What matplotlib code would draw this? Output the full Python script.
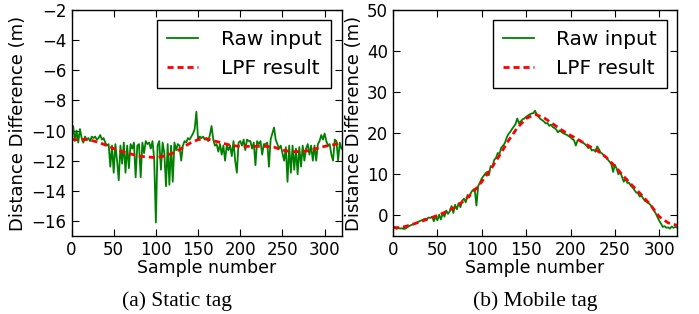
import numpy as np
import matplotlib
matplotlib.use('Agg')
import matplotlib.pyplot as plt

# raw samples, every 2nd sample
raw_x = np.arange(0, 321, 2)

static_raw = [
  -10.6, -9.7, -10.7, -10.0, -10.8, -9.9, -10.5, -10.8, -10.4, -10.6,
  -10.5, -10.7, -10.4, -10.5, -10.4, -10.6, -10.5, -10.3, -10.6, -10.5,
  -10.8, -11.0, -10.9, -12.4, -11.0, -12.8, -10.9, -12.0, -13.3, -11.0,
  -12.2, -10.8, -12.8, -11.0, -12.5, -10.9, -11.2, -10.8, -13.1, -11.0,
  -10.9, -13.1, -10.8, -11.5, -10.7, -10.9, -10.8, -11.2, -10.7, -11.9,
  -16.1, -11.0, -10.7, -12.6, -10.8, -11.5, -13.7, -10.9, -13.6, -11.0,
  -13.4, -10.8, -11.3, -10.9, -11.0, -12.0, -11.0, -10.7, -10.8, -10.5,
  -10.6, -10.4, -10.2, -9.9, -8.75, -10.6, -10.4, -10.5, -10.4, -10.6,
  -10.5, -10.7, -10.3, -9.7, -10.6, -11.0, -10.9, -11.4, -10.9, -11.6,
  -11.0, -12.0, -11.0, -11.3, -11.0, -11.7, -10.7, -12.0, -12.8, -10.8,
  -10.7, -11.0, -10.6, -11.3, -10.6, -10.7, -10.7, -11.2, -10.8, -12.3,
  -10.7, -10.9, -10.7, -11.6, -10.9, -10.9, -10.8, -12.4, -10.6, -10.2,
  -9.8, -10.6, -10.9, -11.2, -11.0, -11.5, -12.0, -11.1, -13.4, -11.0,
  -12.8, -11.0, -12.6, -11.2, -12.9, -11.1, -12.4, -11.0, -12.0, -11.2,
  -10.9, -11.6, -11.0, -12.0, -11.0, -12.0, -10.9, -10.7, -10.3, -10.6,
  -10.2, -10.7, -11.0, -10.9, -11.6, -12.0, -10.6, -10.7, -12.0, -10.8,
  -11.2]

mobile_raw = [
  -3.0, -2.8, -3.3, -3.0, -3.2, -3.1, -3.3, -3.2, -2.9, -2.6,
  -2.4, -2.2, -2.0, -1.9, -1.6, -1.4, -1.2, -1.0, -0.8, -0.9,
  -0.5, -0.6, -0.3, -1.4, -0.2, -1.2, 0.2, -1.0, 0.6, -0.3,
  1.2, 0.4, 1.0, 2.3, 0.6, 2.6, 1.5, 3.0, 2.0, 3.6,
  4.1, 3.2, 5.0, 4.4, 5.6, 6.2, 6.5, 2.4, 7.2, 8.0,
  9.0, 9.6, 10.2, 10.6, 9.8, 12.0, 11.8, 13.5, 14.0, 15.2,
  15.0, 16.5, 17.0, 17.6, 18.9, 19.8, 20.3, 21.0, 21.6, 22.2,
  23.6, 22.4, 22.9, 23.4, 23.6, 24.0, 24.3, 24.6, 24.8, 24.9,
  25.5, 24.6, 24.0, 23.5, 23.2, 22.9, 22.4, 22.5, 21.8, 22.1,
  21.5, 21.3, 20.9, 20.2, 20.7, 20.3, 20.0, 19.8, 19.6, 19.3,
  19.0, 18.6, 18.3, 17.0, 18.3, 18.2, 17.9, 17.7, 17.4, 17.0,
  16.4, 16.6, 15.8, 16.0, 15.5, 16.8, 16.1, 15.3, 15.0, 14.5,
  14.2, 13.6, 13.1, 12.5, 10.6, 12.3, 11.4, 10.0, 10.6, 9.4,
  8.2, 9.0, 7.9, 8.0, 7.2, 6.8, 6.2, 5.6, 5.4, 4.6,
  4.8, 4.1, 3.5, 3.3, 3.0, 2.6, 1.9, 1.2, 0.5, -0.4,
  -1.3, -2.0, -2.8, -2.6, -3.0, -2.9, -3.2, -2.7, -3.0, -2.8,
  -2.9]

# low pass filter output, every 10th sample
lpf_x = np.arange(0, 321, 10)
static_lpf = [-10.6, -10.6, -10.6, -10.75, -10.95, -11.2, -11.4, -11.55, -11.7,
              -11.75, -11.8, -11.7, -11.5, -11.2, -10.85, -10.6, -10.55, -10.7,
              -10.85, -11.0, -11.05, -11.05, -11.05, -11.05, -11.1, -11.3, -11.4,
              -11.4, -11.35, -11.2, -11.05, -10.95, -10.8]
mobile_lpf = [-3.0, -2.9, -2.3, -1.6, -0.8, 0.0, 0.9, 2.0, 3.6, 5.6, 8.2, 11.2,
              14.6, 18.2, 21.3, 23.6, 24.6, 23.8, 22.3, 20.8, 19.5, 18.3, 17.0,
              15.8, 14.2, 12.0, 9.5, 7.2, 5.0, 2.6, -0.3, -1.8, -2.4]

W, H = 699, 314
fig = plt.figure(figsize=(W / 100, H / 100), dpi=100)

def setup(ax, raw, lpf, ylim, yticks, caption, cap_x):
  ax.plot(raw_x, raw, color='g', lw=1.3, label='Raw input')
  ax.plot(lpf_x, lpf, color='r', lw=2.0, linestyle=(0, (2.2, 1.4)), label='LPF result')
  ax.set_xlim(0, 320)
  ax.set_ylim(*ylim)
  ax.set_xticks(range(0, 301, 50))
  ax.set_yticks(yticks)
  ax.set_yticklabels(['\u2212%d' % -t if t < 0 else '%d' % t for t in yticks])
  ax.tick_params(direction='in', top=True, right=True, length=5, width=0.8,
                 labelsize=12, pad=3.5)
  for s in ax.spines.values():
    s.set_linewidth(1.0)
  ax.set_xlabel('Sample number', fontsize=12.5)
  ax.xaxis.set_label_coords(0.5, -0.1)
  ax.set_ylabel('Distance Difference (m)', fontsize=13)
  leg = ax.legend(loc='upper right', fontsize=14.5, fancybox=False, framealpha=1,
                  edgecolor='black', handlelength=1.55, handletextpad=1.1,
                  borderaxespad=0.5, borderpad=0.5, labelspacing=0.5)
  leg.get_frame().set_linewidth(1.0)
  fig.text(cap_x / W, 1 - 301 / H, caption, ha='center', va='center',
           fontsize=15.5, family=['Liberation Serif', 'DejaVu Serif'])

ax1 = fig.add_axes([71.5 / W, (H - 236) / H, 270 / W, 226 / H])
setup(ax1, static_raw, static_lpf, (-17, -2), list(range(-16, -1, 2)),
      '(a) Static tag', 176.7)
ax1.yaxis.set_label_coords(-0.166, 0.5)

ax2 = fig.add_axes([393 / W, (H - 236) / H, 284 / W, 226 / H])
setup(ax2, mobile_raw, mobile_lpf, (-5, 50), list(range(0, 51, 10)),
      '(b) Mobile tag', 535)
ax2.yaxis.set_label_coords(-0.106, 0.5)

fig.savefig('out.png', dpi=100)
